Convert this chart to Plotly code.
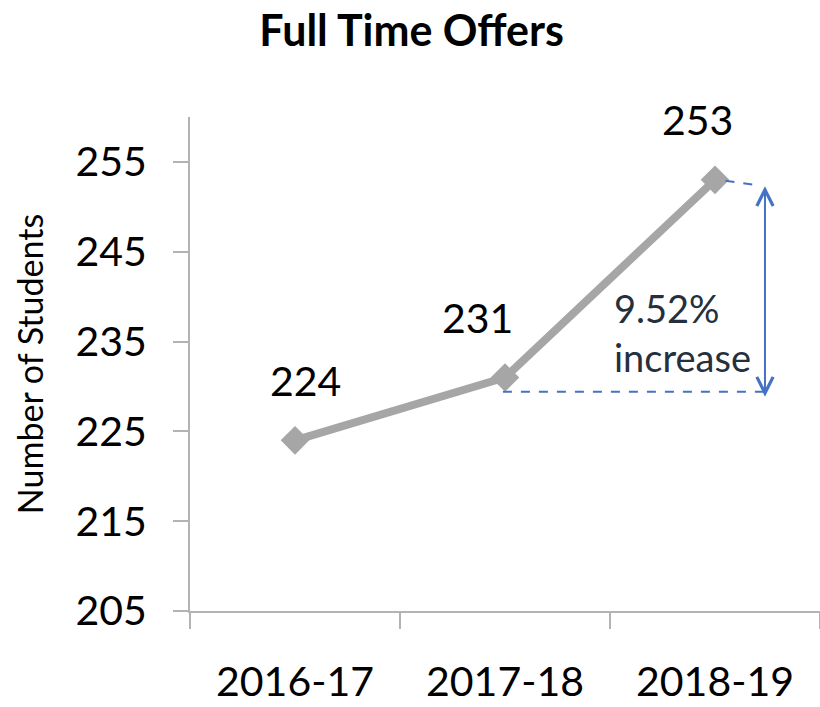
import plotly.graph_objects as go

# data
years = ["2016-17", "2017-18", "2018-19"]
students = [224, 231, 253]
y_ticks = [205, 215, 225, 235, 245, 255]
pct_increase = 9.52

FONT = "Lato"
LINE_GRAY = "#a6a6a6"
AXIS_GRAY = "#b3b3b3"
BLUE = "#4472c4"

fig = go.Figure()

fig.add_trace(go.Scatter(
    x=years,
    y=students,
    mode="lines+markers",
    line=dict(color=LINE_GRAY, width=8),
    marker=dict(symbol="diamond", size=22, color=LINE_GRAY),
    showlegend=False,
    hoverinfo="x+y",
))

# value labels above each point
label_shift_x = [10, -28, -18]
for i, (yr, v) in enumerate(zip(years, students)):
    fig.add_annotation(
        x=i, y=v, text=str(v), showarrow=False,
        xshift=label_shift_x[i], yshift=60,
        font=dict(family=FONT, size=41, color="#000000"),
    )

# dashed guide lines for the increase
fig.add_shape(type="line", xref="x", yref="y",
              x0=0.99, x1=2.24, y0=229.4, y1=229.4,
              line=dict(color=BLUE, width=2, dash="dash"))
fig.add_shape(type="line", xref="x", yref="y",
              x0=2.05, x1=2.2, y0=252.9, y1=252.4,
              line=dict(color=BLUE, width=2, dash="dash"))

# double headed arrow
fig.add_annotation(
    x=2.238, y=252.3, ax=2.238, ay=228.7,
    xref="x", yref="y", axref="x", ayref="y",
    text="", showarrow=True,
    arrowhead=5, startarrowhead=5, arrowside="end+start",
    arrowsize=1.6, startarrowsize=1.6, arrowwidth=2, arrowcolor=BLUE,
    standoff=0, startstandoff=0,
)

fig.add_annotation(
    x=1.51, y=236.0, xref="x", yref="y",
    text=f"{pct_increase:.2f}%<br>increase",
    showarrow=False, xanchor="left", yanchor="middle", align="left",
    font=dict(family=FONT, size=38, color="#252f3d"),
)

fig.update_layout(
    width=820, height=707,
    margin=dict(l=190, r=0, t=117, b=96, autoexpand=False),
    paper_bgcolor="white", plot_bgcolor="white",
    title=dict(
        text="<b>Full Time Offers</b>",
        x=0.502, xanchor="center", xref="container",
        y=1 - 31 / 707, yanchor="middle", yref="container",
        font=dict(family=FONT, size=43, color="#000000"),
    ),
    font=dict(family=FONT, color="#000000"),
)

fig.update_xaxes(
    type="category", range=[-0.5, 2.5], automargin=False,
    showline=True, linecolor=AXIS_GRAY, linewidth=2,
    ticks="outside", tickcolor=AXIS_GRAY, ticklen=16, tickwidth=2,
    tickson="boundaries", ticklabelstandoff=34,
    tickfont=dict(family=FONT, size=41, color="#000000"),
    showgrid=False, zeroline=False, fixedrange=True,
)

fig.update_yaxes(
    range=[205, 260], tickvals=y_ticks, automargin=False,
    showline=True, linecolor=AXIS_GRAY, linewidth=2,
    ticks="outside", tickcolor=AXIS_GRAY, ticklen=15, tickwidth=2,
    ticklabelstandoff=18,
    tickfont=dict(family=FONT, size=41, color="#000000"),
    title=dict(text="Number of Students", standoff=22,
               font=dict(family=FONT, size=34, color="#000000")),
    showgrid=False, zeroline=False, fixedrange=True,
)

# drop the default body margin so the figure sits at the page origin
fig.write_html("out.html", config={"displayModeBar": False},
               post_script="document.body.style.margin='0';")
